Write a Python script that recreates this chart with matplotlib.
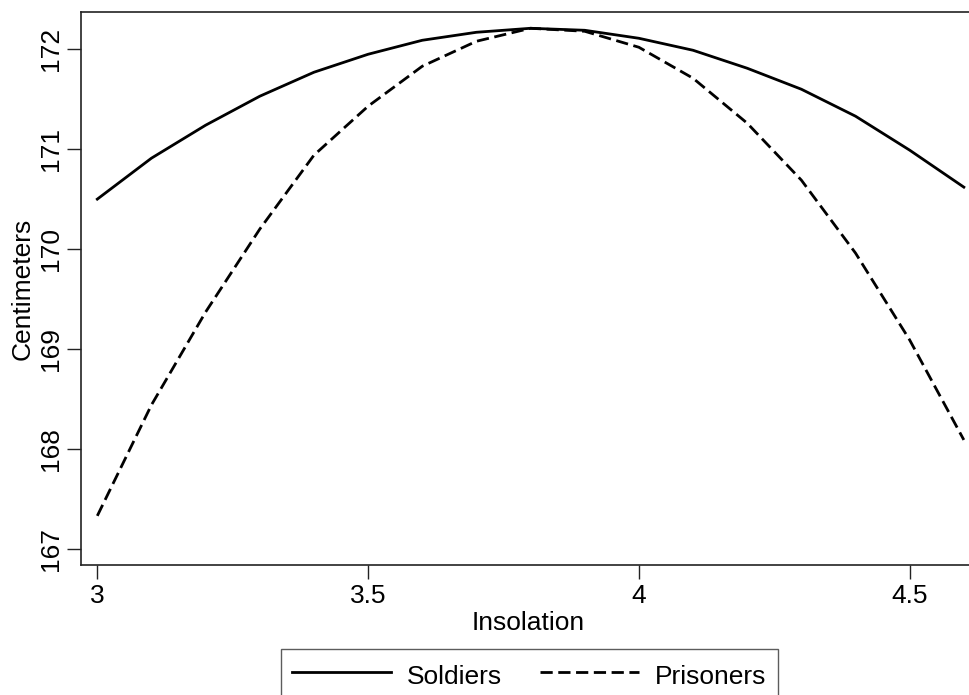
import matplotlib
matplotlib.use('Agg')
import matplotlib.pyplot as plt

plt.rcParams['font.family'] = ['Liberation Sans', 'DejaVu Sans']

# 데이터
insolation = [3.0, 3.1, 3.2, 3.3, 3.4, 3.5, 3.6, 3.7, 3.8, 3.9,
              4.0, 4.1, 4.2, 4.3, 4.4, 4.5, 4.6]
soldiers = [170.50, 170.91, 171.24, 171.53, 171.77, 171.95, 172.09, 172.17, 172.21,
            172.19, 172.11, 171.99, 171.81, 171.60, 171.33, 170.99, 170.62]
prisoners = [167.33, 168.44, 169.37, 170.20, 170.94, 171.43, 171.83, 172.08, 172.21,
             172.18, 172.02, 171.71, 171.26, 170.69, 169.96, 169.09, 168.09]
x_ticks = [3, 3.5, 4, 4.5]
x_ticklabels = ['3', '3.5', '4', '4.5']
y_ticks = [167, 168, 169, 170, 171, 172]

fs = 19
fig = plt.figure(figsize=(9.69, 6.95), dpi=100)
ax = fig.add_axes([81 / 969, 130 / 695, 894 / 969, 553 / 695])

ax.plot(insolation, soldiers, color='black', lw=2.0, label='Soldiers')
ax.plot(insolation, prisoners, color='black', lw=2.0, dashes=(4.4, 2.0), label='Prisoners')

ax.set_xlim(2.9699, 4.6206)
ax.set_ylim(166.838, 172.373)
ax.set_xticks(x_ticks)
ax.set_xticklabels(x_ticklabels)
ax.set_yticks(y_ticks)
ax.set_yticklabels([str(v) for v in y_ticks], rotation=90, va='center')

ax.tick_params(axis='both', direction='out', length=10, width=1.0, labelsize=fs,
               color='#222222')
ax.tick_params(axis='y', pad=3)
ax.tick_params(axis='x', pad=4)
ax.spines['right'].set_visible(False)
for s in ['left', 'top', 'bottom']:
    ax.spines[s].set_linewidth(1.2)
    ax.spines[s].set_color('#222222')

ax.set_xlabel('Insolation', fontsize=fs, labelpad=2)
ax.set_ylabel('Centimeters', fontsize=fs, labelpad=3)

leg = fig.legend(loc='upper center', bbox_to_anchor=(529.5 / 969, 1 - 649 / 695),
                 ncol=2, fontsize=fs, frameon=True, fancybox=False,
                 handlelength=3.75, handletextpad=0.6, columnspacing=1.44,
                 handleheight=1.4, borderpad=0.42, borderaxespad=0)
leg.get_frame().set_edgecolor('#333333')
leg.get_frame().set_linewidth(1.0)

fig.savefig('out.png', dpi=100)
